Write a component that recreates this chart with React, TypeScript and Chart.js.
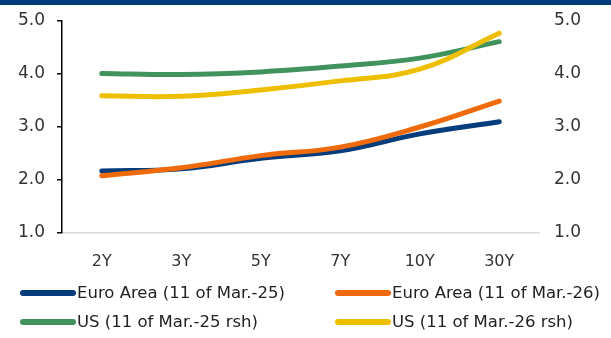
import React, { useEffect, useRef } from "react";
import { Chart, registerables } from "chart.js";

Chart.register(...registerables);

const categories = ["2Y", "3Y", "5Y", "7Y", "10Y", "30Y"];
const euroArea25 = [2.17, 2.21, 2.41, 2.55, 2.87, 3.1];
const euroArea26 = [2.08, 2.23, 2.46, 2.62, 3.0, 3.49];
const us25 = [4.01, 3.99, 4.04, 4.15, 4.3, 4.61];
const us26 = [3.59, 3.58, 3.7, 3.87, 4.09, 4.77];
const yTicks = [1, 2, 3, 4, 5];
const seriesLabels = [
  "Euro Area (11 of Mar.-25)",
  "Euro Area (11 of Mar.-26)",
  "US (11 of Mar.-25 rsh)",
  "US (11 of Mar.-26 rsh)",
];
const colors = ["#043C7C", "#EE6A0A", "#42925E", "#EEBF00"];
const FONT = "'DejaVu Sans', sans-serif";

const legendPlugin = {
  id: "gridLegend",
  afterDraw(chart: any) {
    const ctx = chart.ctx;
    const cols = [20, 335];
    const rows = [293, 322];
    ctx.save();
    ctx.font = `16.5px ${FONT}`;
    ctx.textBaseline = "middle";
    ctx.textAlign = "left";
    chart.data.datasets.forEach((ds: any, i: number) => {
      const x = cols[i % 2];
      const y = rows[Math.floor(i / 2)];
      ctx.strokeStyle = ds.borderColor;
      ctx.lineWidth = 6;
      ctx.lineCap = "round";
      ctx.beginPath();
      ctx.moveTo(x + 3, y);
      ctx.lineTo(x + 53, y);
      ctx.stroke();
      ctx.fillStyle = "#222";
      ctx.fillText(ds.label, x + 57, y + 1);
    });
    ctx.restore();
  },
};

export default function App() {
  const ref = useRef<HTMLCanvasElement>(null);
  useEffect(() => {
    document.body.style.margin = "0";
    const series = [euroArea25, euroArea26, us25, us26];
    const orders = [3, 1, 4, 2];
    const tickFmt = (v: any) => Number(v).toFixed(1);
    const fitY = (w: number) => (s: any) => {
      s.width = w;
      s.paddingTop = 0;
      s.paddingBottom = 0;
    };
    const chart = new Chart(ref.current!, {
      type: "line",
      data: {
        labels: categories,
        datasets: series.map((d, i) => ({
          label: seriesLabels[i],
          data: d,
          borderColor: colors[i],
          backgroundColor: colors[i],
          borderWidth: 5,
          borderCapStyle: "round",
          pointRadius: 0,
          tension: 0.4,
          order: orders[i],
          yAxisID: i < 2 ? "y" : "y2",
        })),
      },
      options: {
        animation: false,
        responsive: false,
        maintainAspectRatio: false,
        layout: { padding: { top: 21, bottom: 60, left: 0, right: 0 } },
        plugins: { legend: { display: false }, tooltip: { enabled: false } },
        scales: {
          x: {
            offset: true,
            grid: { display: true, drawOnChartArea: false, drawTicks: false },
            border: { display: true, color: "#D9D9D9", width: 1.5 },
            ticks: { color: "#333", font: { family: FONT, size: 16 }, padding: 19 },
            afterFit: (s: any) => {
              s.height = 45;
              s.paddingLeft = 0;
              s.paddingRight = 0;
            },
          },
          y: {
            position: "left",
            min: yTicks[0],
            max: yTicks[yTicks.length - 1],
            afterBuildTicks: (s: any) => {
              s.ticks = yTicks.map((v) => ({ value: v }));
            },
            ticks: {
              color: "#333",
              font: { family: FONT, size: 17 },
              padding: 12,
              callback: tickFmt,
            },
            grid: { display: true, drawOnChartArea: false, drawTicks: true, tickLength: 5, color: "#000", lineWidth: 1.5 },
            border: { display: true, color: "#000", width: 1.5 },
            afterFit: fitY(62),
          },
          y2: {
            position: "right",
            min: yTicks[0],
            max: yTicks[yTicks.length - 1],
            afterBuildTicks: (s: any) => {
              s.ticks = yTicks.map((v) => ({ value: v }));
            },
            ticks: {
              color: "#333",
              font: { family: FONT, size: 17 },
              padding: 15,
              callback: tickFmt,
            },
            grid: { display: false, drawTicks: false },
            border: { display: false },
            afterFit: fitY(72),
          },
        },
      },
      plugins: [legendPlugin],
    });
    return () => chart.destroy();
  }, []);
  return (
    <div style={{ position: "relative", width: 611, height: 338, background: "#fff" }}>
      <div style={{ position: "absolute", left: 0, top: 0, width: 611, height: 5, background: "#003B7A" }} />
      <canvas ref={ref} width={611} height={338} style={{ display: "block" }} />
    </div>
  );
}
